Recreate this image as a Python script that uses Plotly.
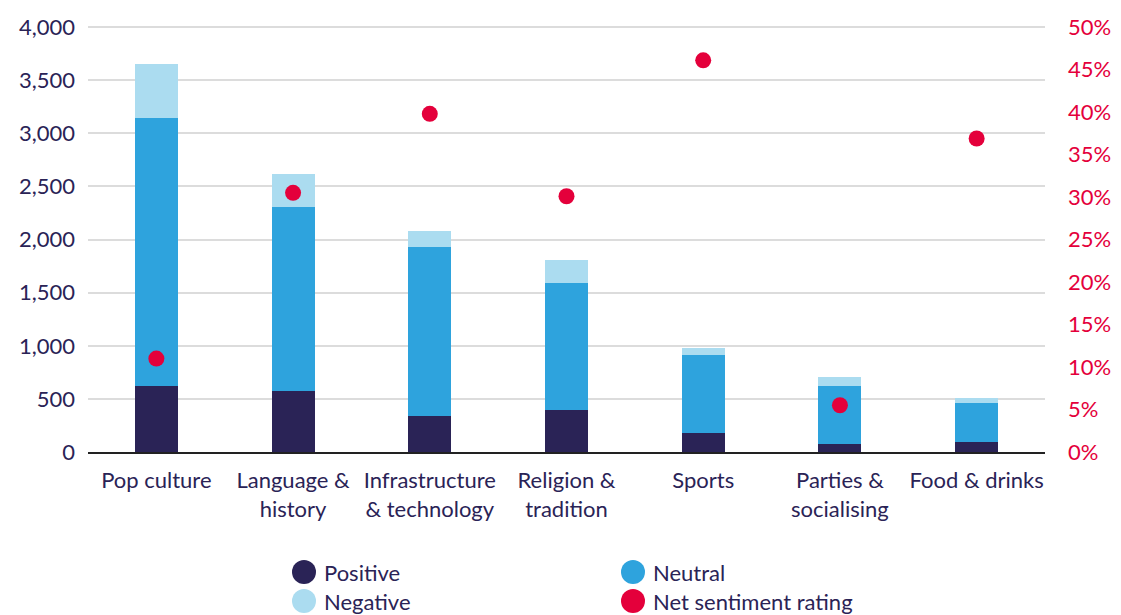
import plotly.graph_objects as go

# data
categories = ["Pop culture", "Language &<br>history", "Infrastructure<br>& technology",
              "Religion &<br>tradition", "Sports", "Parties &<br>socialising", "Food & drinks"]
positive = [625, 572, 337, 400, 182, 80, 97]
neutral = [2520, 1739, 1597, 1194, 736, 540, 361]
negative = [510, 307, 148, 214, 62, 82, 48]
net_sentiment = [11.0, 30.5, 39.8, 30.1, 46.1, 5.5, 36.9]

NAVY = "#2a2356"
BLUE = "#2ea3dd"
LIGHT = "#abdcf0"
RED = "#e4003b"
FONT = "Lato"
FS = 22

fig = go.Figure()
for name, vals, col in [("Positive", positive, NAVY),
                        ("Neutral", neutral, BLUE),
                        ("Negative", negative, LIGHT)]:
    fig.add_trace(go.Bar(x=categories, y=vals, name=name, width=0.315,
                         marker=dict(color=col, line=dict(width=0)), showlegend=False))

fig.add_trace(go.Scatter(x=categories, y=net_sentiment, name="Net sentiment rating",
                         mode="markers", yaxis="y2", showlegend=False,
                         marker=dict(color=RED, size=16)))

# page body has an 8px margin, so the figure is laid out 8px smaller
OFF = 8
W, H = 1121 - OFF, 615 - OFF
L, R, T, B = 88 - OFF, 76, 24 - OFF, 163
pw, ph = W - L - R, H - T - B

# legend drawn by hand so the circles match the original size
legend_items = [("Positive", NAVY, 304, 572), ("Neutral", BLUE, 633, 572),
                ("Negative", LIGHT, 304, 601), ("Net sentiment rating", RED, 633, 601)]
for label, col, px, py in legend_items:
    xp = (px - OFF - L) / pw
    yp = (H - B - (py - OFF)) / ph
    fig.add_shape(type="circle", xref="paper", yref="paper", xsizemode="pixel", ysizemode="pixel",
                  xanchor=xp, yanchor=yp, x0=-12, x1=12, y0=-12, y1=12,
                  fillcolor=col, line=dict(width=0))
    fig.add_annotation(x=xp, y=yp, xref="paper", yref="paper", xshift=18, text=label,
                       showarrow=False, xanchor="left", yanchor="middle",
                       font=dict(family=FONT, size=FS, color=NAVY))

# some headroom so the 4,000 gridline is not clipped at the plot edge
YMAX = 4030
fig.update_layout(
    width=W, height=H,
    margin=dict(l=L, r=R, t=T, b=B, autoexpand=False),
    barmode="stack",
    plot_bgcolor="white", paper_bgcolor="white",
    font=dict(family=FONT, size=FS, color=NAVY),
    showlegend=False,
    xaxis=dict(showline=True, linecolor="#222222", linewidth=2, ticks="", automargin=False,
               ticklabelstandoff=8, tickfont=dict(size=FS, color=NAVY), showgrid=False),
    yaxis=dict(range=[0, YMAX], dtick=500, tickformat=",", showgrid=True, automargin=False,
               gridcolor="#dcdcdc", gridwidth=2, zeroline=False,
               ticklabelstandoff=12, tickfont=dict(size=FS, color=NAVY)),
    yaxis2=dict(range=[0, 50 * YMAX / 4000], dtick=5, ticksuffix="%", overlaying="y", side="right",
                showgrid=False, zeroline=False, ticklabelstandoff=22, automargin=False,
                tickfont=dict(size=FS, color=RED)),
)

fig.write_html("out.html")
